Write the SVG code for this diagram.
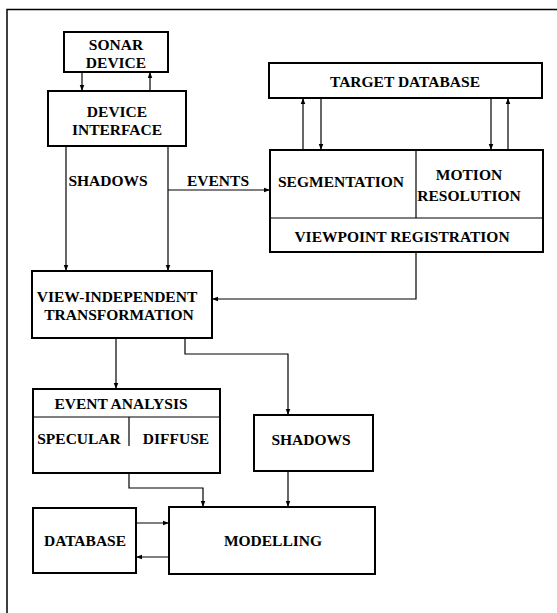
<svg xmlns="http://www.w3.org/2000/svg" width="557" height="613" viewBox="0 0 557 613">
<style>
.box{fill:#fff;stroke:#000;stroke-width:2}
.div{fill:none;stroke:#000;stroke-width:1.2}
.con{fill:none;stroke:#000;stroke-width:1.2}
text{font-family:"Liberation Serif","Times New Roman",serif;font-weight:bold;font-size:15.5px;fill:#000;text-anchor:middle}
</style>
<defs>
<marker id="ah" viewBox="0 0 8 8" refX="8" refY="4" markerWidth="6" markerHeight="6" markerUnits="userSpaceOnUse" orient="auto">
<path d="M0,1 L8,4 L0,7 Z" fill="#000"/>
</marker>
</defs>
<rect width="557" height="613" fill="#fff"/>
<path d="M7,613 V9.5 H557" fill="none" stroke="#000" stroke-width="1.5"/>

<g id="connectors">
<line class="con" x1="82" y1="72" x2="82" y2="91" marker-end="url(#ah)"/>
<line class="con" x1="150" y1="91" x2="150" y2="72" marker-end="url(#ah)"/>
<line class="con" x1="66" y1="146" x2="66" y2="271" marker-end="url(#ah)"/>
<line class="con" x1="168" y1="146" x2="168" y2="271" marker-end="url(#ah)"/>
<path class="con" d="M168,190 H270" marker-end="url(#ah)"/>
<line class="con" x1="303" y1="150" x2="303" y2="98" marker-end="url(#ah)"/>
<line class="con" x1="321" y1="98" x2="321" y2="150" marker-end="url(#ah)"/>
<line class="con" x1="491" y1="98" x2="491" y2="150" marker-end="url(#ah)"/>
<line class="con" x1="508" y1="150" x2="508" y2="98" marker-end="url(#ah)"/>
<path class="con" d="M416,252 V299 H212" marker-end="url(#ah)"/>
<line class="con" x1="116" y1="338" x2="116" y2="389" marker-end="url(#ah)"/>
<path class="con" d="M185,338 V354 H288 V415" marker-end="url(#ah)"/>
<path class="con" d="M129,473 V488 H203 V507" marker-end="url(#ah)"/>
<line class="con" x1="288" y1="471" x2="288" y2="507" marker-end="url(#ah)"/>
<line class="con" x1="136" y1="523" x2="169" y2="523" marker-end="url(#ah)"/>
<line class="con" x1="169" y1="557" x2="136" y2="557" marker-end="url(#ah)"/>
</g>

<g id="labels">
<text x="108" y="186">SHADOWS</text>
<text x="218" y="186">EVENTS</text>
</g>

<g id="sonar-device">
<rect class="box" x="64" y="32" width="104" height="40"/>
<text x="116" y="50">SONAR</text>
<text x="116" y="68">DEVICE</text>
</g>

<g id="device-interface">
<rect class="box" x="48" y="91" width="138" height="55"/>
<text x="117" y="117">DEVICE</text>
<text x="117" y="135">INTERFACE</text>
</g>

<g id="target-database">
<rect class="box" x="269" y="63" width="273" height="35"/>
<text x="405" y="87">TARGET DATABASE</text>
</g>

<g id="segmentation-group">
<rect class="box" x="270" y="150" width="273" height="102"/>
<line class="div" x1="270" y1="218" x2="543" y2="218"/>
<line class="div" x1="416" y1="150" x2="416" y2="218"/>
<text x="341" y="187">SEGMENTATION</text>
<text x="469" y="180">MOTION</text>
<text x="469" y="201">RESOLUTION</text>
<text x="402" y="242">VIEWPOINT REGISTRATION</text>
</g>

<g id="view-independent">
<rect class="box" x="32" y="271" width="180" height="67"/>
<text x="117" y="302">VIEW-INDEPENDENT</text>
<text x="119" y="320">TRANSFORMATION</text>
</g>

<g id="event-analysis">
<rect class="box" x="33" y="389" width="187" height="84"/>
<line class="div" x1="33" y1="417" x2="220" y2="417"/>
<line class="div" x1="129" y1="417" x2="129" y2="446"/>
<text x="121" y="409">EVENT ANALYSIS</text>
<text x="79" y="444">SPECULAR</text>
<text x="176" y="444">DIFFUSE</text>
</g>

<g id="shadows">
<rect class="box" x="254" y="415" width="119" height="56"/>
<text x="311" y="445">SHADOWS</text>
</g>

<g id="database">
<rect class="box" x="33" y="508" width="103" height="65"/>
<text x="85" y="546">DATABASE</text>
</g>

<g id="modelling">
<rect class="box" x="169" y="507" width="206" height="67"/>
<text x="273" y="546">MODELLING</text>
</g>
</svg>
